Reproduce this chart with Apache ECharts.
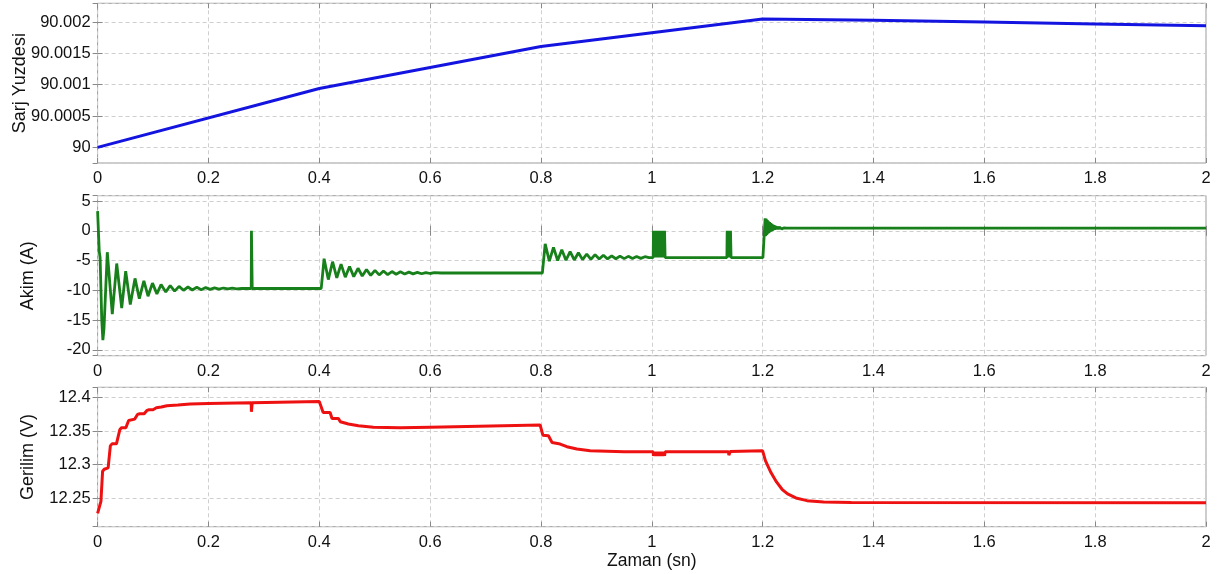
<!DOCTYPE html>
<html>
<head>
<meta charset="utf-8">
<script src="https://cdn.jsdelivr.net/npm/echarts@6/dist/echarts.min.js"></script>
<style>
html,body{margin:0;padding:0;background:#fff;}
#chart{width:1220px;height:574px;}
</style>
</head>
<body>
<div id="chart"></div>
<script>
// ---- Data (time in s) ----
const socData = [[0,90.0],[0.4,90.00094],[0.8,90.00161],[1.2,90.00205],[1.4,90.00203],[1.6,90.002],[1.8,90.00197],[2.0,90.00194]];

const currentData = [
 [0,3.3],[0.0012,3.0],[0.003,-3.5],[0.0045,-4.5],[0.0075,-15],[0.0095,-18.4],[0.0115,-16.5],
 [0.0175,-3.6],[0.0265,-14.0],[0.0345,-5.5],[0.0435,-13.0],[0.0507,-6.8],[0.059,-12.4],
 [0.0675,-8.0],[0.0753,-11.4],[0.0835,-8.4],[0.091,-11.0],[0.099,-8.8],[0.107,-10.6],
 [0.1145,-9.05],[0.123,-10.3],[0.131,-9.2],[0.139,-10.15],[0.147,-9.35],[0.155,-10.0],
 [0.163,-9.45],[0.171,-9.95],[0.179,-9.5],[0.187,-9.9],[0.195,-9.55],[0.203,-9.85],
 [0.211,-9.6],[0.219,-9.8],[0.227,-9.62],[0.235,-9.78],[0.243,-9.65],[0.251,-9.75],
 [0.26,-9.7],[0.2772,-9.7],[0.2776,0],[0.2786,0],[0.279,-9.7],[0.4035,-9.7],
 [0.4087,-4.7],[0.4163,-8.2],[0.424,-5.2],[0.4316,-7.9],[0.4393,-5.6],[0.4469,-7.8],
 [0.4546,-6.0],[0.4622,-7.7],[0.4699,-6.3],[0.4775,-7.6],[0.4852,-6.5],[0.4928,-7.5],
 [0.5005,-6.65],[0.5081,-7.42],[0.5158,-6.75],[0.5234,-7.36],[0.5311,-6.85],[0.5387,-7.3],
 [0.5464,-6.9],[0.554,-7.27],[0.5617,-6.95],[0.5693,-7.24],[0.577,-7.0],[0.5846,-7.22],
 [0.5923,-7.02],[0.5999,-7.18],[0.6076,-7.05],[0.62,-7.1],[0.8025,-7.1],
 [0.8076,-2.2],[0.8151,-5.1],[0.8226,-2.8],[0.8301,-5.0],[0.8376,-3.2],[0.8451,-4.95],
 [0.8526,-3.5],[0.8601,-4.9],[0.8676,-3.7],[0.8751,-4.85],[0.8826,-3.9],[0.8901,-4.8],
 [0.8976,-4.0],[0.9051,-4.75],[0.9126,-4.1],[0.9201,-4.72],[0.9276,-4.2],[0.9351,-4.7],
 [0.9426,-4.25],[0.9501,-4.68],[0.9576,-4.3],[0.9651,-4.66],[0.9726,-4.33],[0.9801,-4.64],
 [0.9876,-4.36],[0.995,-4.5],[1.0025,-4.5],
 [1.003,0],[1.004,-4.5],[1.005,0],[1.006,-4.5],[1.007,0],[1.008,-4.5],[1.009,0],[1.010,-4.5],
 [1.011,0],[1.012,-4.5],[1.013,0],[1.014,-4.5],[1.015,0],[1.016,-4.5],[1.017,0],[1.018,-4.5],
 [1.019,0],[1.020,-4.5],[1.021,0],[1.022,-4.5],[1.023,0],[1.024,-4.5],
 [1.1355,-4.5],[1.136,0],[1.137,-4.5],[1.138,0],[1.139,-4.5],[1.140,0],[1.141,-4.5],[1.142,0],[1.143,-4.5],
 [1.2005,-4.5],[1.2045,2.1],[1.2055,-0.9],[1.2065,2.0],[1.2075,-0.7],[1.2085,1.8],[1.2095,-0.5],
 [1.2105,1.6],[1.2115,-0.35],[1.2125,1.45],[1.2135,-0.2],[1.2145,1.3],[1.2155,-0.1],[1.2165,1.15],
 [1.2175,0.0],[1.2185,1.05],[1.2195,0.1],[1.2205,0.95],[1.2215,0.15],[1.2225,0.85],[1.2235,0.2],
 [1.2245,0.78],[1.2255,0.25],[1.227,0.7],[1.2285,0.28],[1.23,0.63],[1.2315,0.3],[1.233,0.58],
 [1.2345,0.33],[1.236,0.54],[1.2375,0.36],[1.239,0.5],[1.2405,0.38],[1.243,0.45],[1.25,0.45],[2.0,0.45]
];

const voltageData = [
 [0,12.227],[0.003,12.228],[0.006,12.245],[0.009,12.29],[0.012,12.293],[0.019,12.295],
 [0.023,12.328],[0.026,12.331],[0.034,12.331],[0.04,12.352],[0.043,12.355],[0.051,12.355],
 [0.056,12.366],[0.059,12.368],[0.067,12.368],[0.072,12.375],[0.076,12.376],[0.084,12.376],
 [0.089,12.381],[0.093,12.382],[0.1,12.382],[0.106,12.385],[0.115,12.386],[0.125,12.388],
 [0.145,12.389],[0.167,12.3905],[0.2,12.3915],[0.2772,12.3925],[0.2775,12.379],[0.2788,12.379],
 [0.279,12.3925],[0.4,12.3945],[0.4027,12.392],[0.407,12.378],[0.4195,12.378],[0.423,12.369],
 [0.4345,12.369],[0.438,12.364],[0.4525,12.3606],[0.4706,12.358],[0.4977,12.3557],[0.5458,12.355],
 [0.6,12.356],[0.7986,12.359],[0.8034,12.344],[0.8135,12.343],[0.82,12.333],[0.8347,12.3307],
 [0.8468,12.3267],[0.8648,12.3232],[0.8888,12.3207],[0.95,12.319],[1.0025,12.319],
 [1.003,12.313],[1.005,12.319],[1.007,12.313],[1.009,12.319],[1.011,12.313],[1.013,12.319],
 [1.015,12.313],[1.017,12.319],[1.019,12.313],[1.021,12.319],[1.023,12.313],[1.024,12.319],
 [1.1385,12.319],[1.139,12.314],[1.141,12.314],[1.1415,12.3195],[1.2,12.3205],
 [1.205,12.306],[1.215,12.288],[1.225,12.274],[1.235,12.263],[1.245,12.256],[1.26,12.25],
 [1.28,12.246],[1.31,12.2438],[1.36,12.2433],[2.0,12.243]
];

// axis settings
const xRange = [0, 2];
const xStep = 0.2;
const socRange = [89.99975, 90.0023];
const socStep = 0.0005;
const currentRange = [-21, 5.9];
const currentStep = 5;
const voltageRange = [12.207, 12.4156];
const voltageStep = 0.05;

const FONT = '"Liberation Sans", Arial, Helvetica, sans-serif';
const gridTops = [3.3, 195.7, 387.3];
const gridHeights = [159.7, 160, 139.4];

const grids = gridTops.map((t, i) => ({
  left: 97.6, right: 14, top: t, height: gridHeights[i],
  outerBoundsMode: 'none', containLabel: false,
  show: true, borderColor: '#9a9a9a', borderWidth: 1, backgroundColor: '#fff'
}));

const xAxes = [];
[0,1,2].forEach(i => {
  xAxes.push({
    type: 'value', gridIndex: i, min: xRange[0], max: xRange[1], interval: xStep,
    axisLine: {show: false},
    axisTick: {show: true, inside: true, length: 5, lineStyle: {color: '#888'}},
    axisLabel: {color: '#111', fontSize: 16.5, fontFamily: FONT, margin: 7,
      formatter: v => String(+v.toFixed(1))},
    splitLine: {show: true, lineStyle: {color: '#cfcfcf', type: [4, 3], width: 1}},
    name: i === 2 ? 'Zaman (sn)' : '', nameLocation: 'middle', nameGap: 25,
    nameMoveOverlap: false,
    nameTextStyle: {color: '#111', fontSize: 17.5, fontFamily: FONT}
  });
  xAxes.push({
    type: 'value', gridIndex: i, position: 'top', min: xRange[0], max: xRange[1], interval: xStep,
    axisLine: {show: false},
    axisTick: {show: true, inside: true, length: 5, lineStyle: {color: '#888'}},
    axisLabel: {show: false}, splitLine: {show: false}
  });
});

function yAxisPair(i, range, step, name, gap, fmt) {
  return [{
    type: 'value', gridIndex: i, min: range[0], max: range[1],
    minInterval: step, maxInterval: step, splitNumber: 5,
    axisLine: {show: false},
    axisTick: {show: true, inside: true, length: 5, lineStyle: {color: '#888'}},
    axisLabel: {color: '#111', fontSize: 16.5, fontFamily: FONT, margin: 7,
      showMinLabel: false, showMaxLabel: false, formatter: fmt},
    splitLine: {show: true, lineStyle: {color: '#cfcfcf', type: [4, 3], width: 1}},
    name: name, nameLocation: 'middle', nameGap: gap, nameRotate: 90,
    nameMoveOverlap: false,
    nameTextStyle: {color: '#111', fontSize: 18, fontFamily: FONT}
  }, {
    type: 'value', gridIndex: i, position: 'right', min: range[0], max: range[1],
    minInterval: step, maxInterval: step, splitNumber: 5,
    axisLine: {show: false},
    axisTick: {show: true, inside: true, length: 5, lineStyle: {color: '#888'}},
    axisLabel: {show: false}, splitLine: {show: false}
  }];
}

const yAxes = [
  ...yAxisPair(0, socRange, socStep, 'Sarj Yuzdesi', 69, v => String(+v.toFixed(4))),
  ...yAxisPair(1, currentRange, currentStep, 'Akim (A)', 61, v => String(Math.round(v))),
  ...yAxisPair(2, voltageRange, voltageStep, 'Gerilim (V)', 61, v => String(+v.toFixed(2)))
];

const option = {
  animation: false,
  backgroundColor: '#fff',
  grid: grids,
  xAxis: xAxes,
  yAxis: yAxes,
  series: [
    {type: 'line', xAxisIndex: 0, yAxisIndex: 0, data: socData, showSymbol: false,
     lineStyle: {color: '#1414e0', width: 3}},
    {type: 'line', xAxisIndex: 2, yAxisIndex: 2, data: currentData, showSymbol: false,
     lineStyle: {color: '#17801a', width: 2.8}},
    {type: 'line', xAxisIndex: 4, yAxisIndex: 4, data: voltageData, showSymbol: false,
     lineStyle: {color: '#ee1111', width: 3}}
  ]
};

const chart = echarts.init(document.getElementById('chart'), null, {renderer: 'canvas'});
chart.setOption(option);
</script>
</body>
</html>
